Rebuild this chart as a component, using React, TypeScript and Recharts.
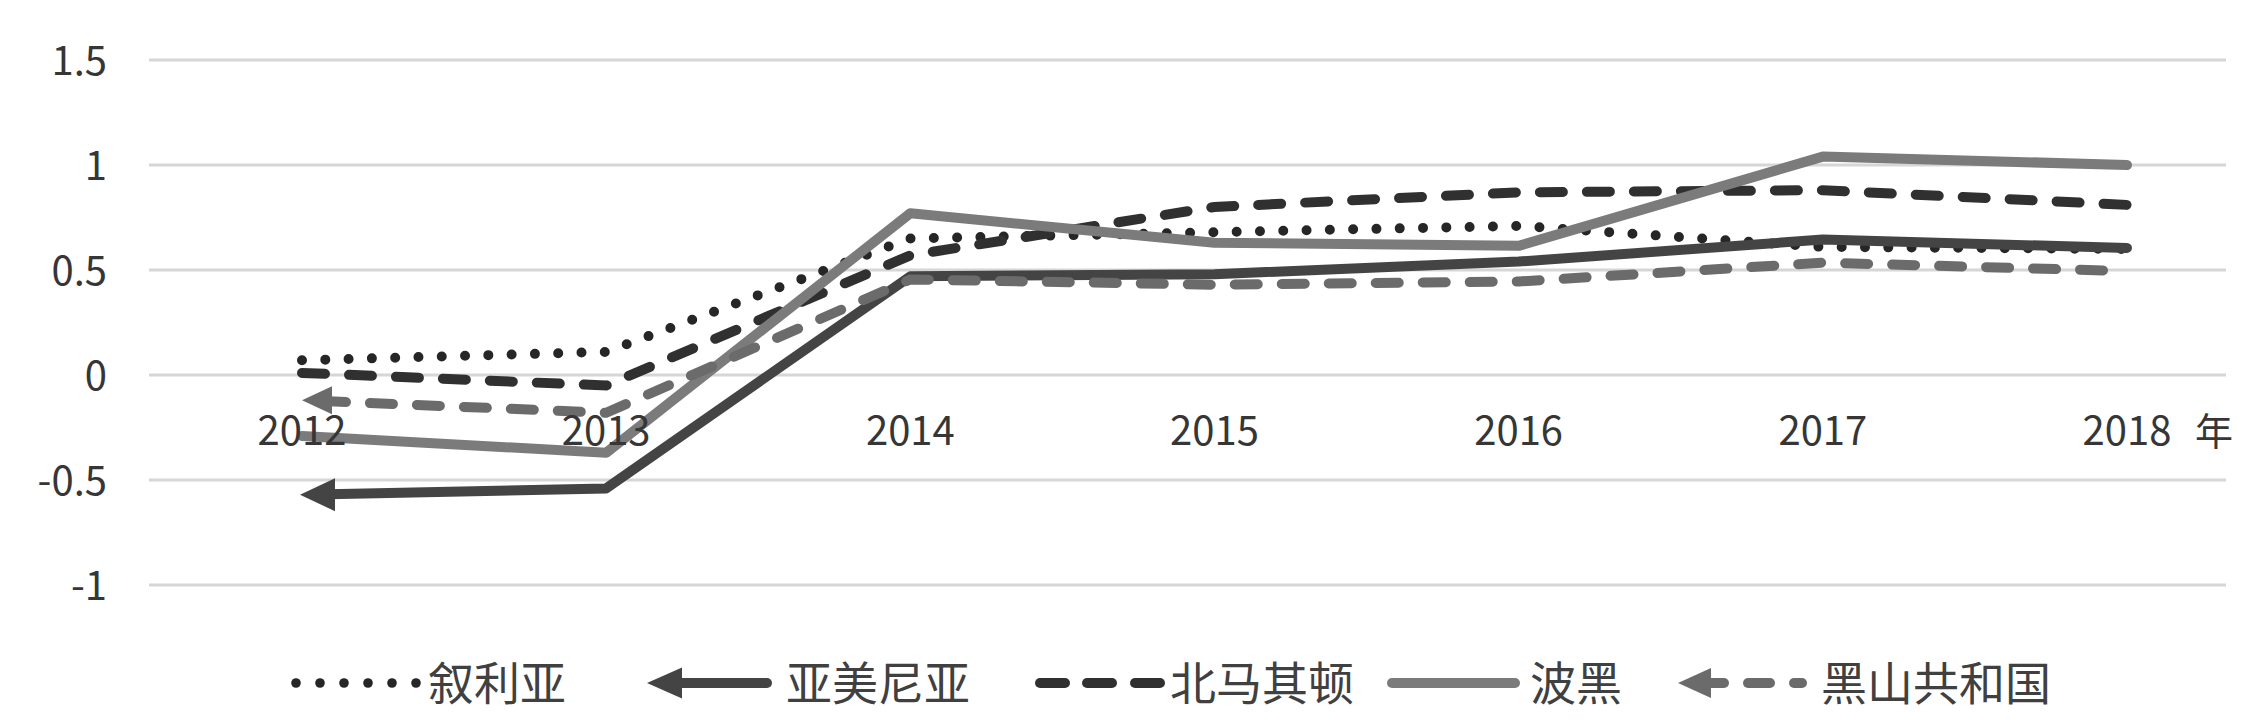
import React from 'react';
import { LineChart, Line, XAxis, YAxis, CartesianGrid, Legend } from 'recharts';

const years = ['2012', '2013', '2014', '2015', '2016', '2017', '2018'];
const syria = [0.07, 0.11, 0.65, 0.68, 0.71, 0.61, 0.6];
const armenia = [-0.57, -0.54, 0.47, 0.48, 0.54, 0.645, 0.605];
const northMacedonia = [0.01, -0.05, 0.57, 0.8, 0.87, 0.88, 0.81];
const bosnia = [-0.29, -0.37, 0.77, 0.63, 0.615, 1.04, 1.0];
const montenegro = [-0.12, -0.18, 0.455, 0.43, 0.445, 0.535, 0.495];
const seriesNames = ['叙利亚', '亚美尼亚', '北马其顿', '波黑', '黑山共和国'];
const yTicks = [-1, -0.5, 0, 0.5, 1, 1.5];
const yearUnit = '年';

const data = years.map((year, i) => ({
  year,
  syria: syria[i],
  armenia: armenia[i],
  northMacedonia: northMacedonia[i],
  bosnia: bosnia[i],
  montenegro: montenegro[i],
}));

const FONT = '"Noto Sans CJK SC", "Noto Sans", sans-serif';
const TEXT = '#363636';
const LEGEND_TEXT = '#404040';
const C_SYRIA = '#262626';
const C_ARMENIA = '#444444';
const C_NM = '#303030';
const C_BOSNIA = '#7b7b7b';
const C_MONT = '#6b6b6b';

const XTick = (props: any) => {
  const { x, y, payload, index } = props;
  return (
    <g transform={`translate(${x},${y - 140})`}>
      <text textAnchor="middle" fontFamily={FONT} fontSize={40} fill={TEXT}>
        {payload.value}
      </text>
      {index === years.length - 1 && (
        <text x={87} textAnchor="middle" fontFamily={FONT} fontSize={38} fill={TEXT}>
          {yearUnit}
        </text>
      )}
    </g>
  );
};

const YTick = (props: any) => {
  const { x, y, payload } = props;
  return (
    <text x={x} y={y + 14.5} textAnchor="end" fontFamily={FONT} fontSize={40} fill={TEXT}>
      {String(payload.value)}
    </text>
  );
};

const arrowDot = (len: number, half: number, color: string, tipOffset: number) => (props: any) => {
  const { cx, cy, index } = props;
  if (index !== 0 || cx == null || cy == null) return <g key={`d${index}`} />;
  const tx = cx - tipOffset;
  return (
    <polygon
      key={`d${index}`}
      points={`${tx},${cy} ${tx + len},${cy - half} ${tx + len},${cy + half}`}
      fill={color}
    />
  );
};

const LegendContent = () => {
  const cy = 43;
  const base = 60;
  const textProps = { fontFamily: FONT, fontSize: 46, fill: LEGEND_TEXT };
  const dots = [0, 1, 2, 3, 4, 5];
  return (
    <svg width={2264} height={80} style={{ display: 'block' }}>
      {dots.map((k) => (
        <circle key={k} cx={296 + 24 * k} cy={cy} r={4.8} fill={C_SYRIA} />
      ))}
      <text x={428} y={base} {...textProps}>{seriesNames[0]}</text>
      <polygon points={`647,${cy} 682,${cy - 15.5} 682,${cy + 15.5}`} fill={C_ARMENIA} />
      <line x1={676} y1={cy} x2={767} y2={cy} stroke={C_ARMENIA} strokeWidth={10} strokeLinecap="round" />
      <text x={786} y={base} {...textProps}>{seriesNames[1]}</text>
      {[1040, 1087, 1135].map((s) => (
        <line key={s} x1={s} y1={cy} x2={s + 25} y2={cy} stroke={C_NM} strokeWidth={10} strokeLinecap="round" />
      ))}
      <text x={1170} y={base} {...textProps}>{seriesNames[2]}</text>
      <line x1={1392} y1={cy} x2={1515} y2={cy} stroke={C_BOSNIA} strokeWidth={10} strokeLinecap="round" />
      <text x={1530} y={base} {...textProps}>{seriesNames[3]}</text>
      <polygon points={`1678,${cy} 1711,${cy - 15} 1711,${cy + 15}`} fill={C_MONT} />
      <line x1={1705} y1={cy} x2={1724} y2={cy} stroke={C_MONT} strokeWidth={10} strokeLinecap="round" />
      <line x1={1748} y1={cy} x2={1770} y2={cy} stroke={C_MONT} strokeWidth={10} strokeLinecap="round" />
      <line x1={1794} y1={cy} x2={1802} y2={cy} stroke={C_MONT} strokeWidth={10} strokeLinecap="round" />
      <text x={1821} y={base} {...textProps}>{seriesNames[4]}</text>
    </svg>
  );
};

export default function App() {
  return (
    <div style={{ position: 'fixed', left: 0, top: 0, width: 2264, height: 723, background: '#ffffff' }}>
      <LineChart
        width={2264}
        height={723}
        data={data}
        margin={{ top: 60, right: 38, bottom: 108, left: 0 }}
      >
        <CartesianGrid vertical={false} stroke="#d6d6d6" strokeWidth={3} />
        <XAxis
          dataKey="year"
          height={30}
          axisLine={false}
          tickLine={false}
          tickSize={0}
          tickMargin={0}
          interval={0}
          padding={{ left: 153, right: 99 }}
          tick={<XTick />}
        />
        <YAxis
          width={149}
          domain={[-1, 1.5]}
          ticks={yTicks}
          interval={0}
          axisLine={false}
          tickLine={false}
          tickSize={0}
          tickMargin={42}
          tick={<YTick />}
        />
        <Legend
          layout="horizontal"
          verticalAlign="middle"
          align="center"
          wrapperStyle={{ position: 'absolute', left: 0, top: 640, width: 2264, height: 80, margin: 0, padding: 0 }}
          content={<LegendContent />}
        />
        <Line
          type="linear"
          dataKey="syria"
          name={seriesNames[0]}
          stroke={C_SYRIA}
          strokeWidth={10}
          strokeDasharray="0 23.3"
          strokeLinecap="round"
          dot={false}
          activeDot={false}
          isAnimationActive={false}
        />
        <Line
          type="linear"
          dataKey="armenia"
          name={seriesNames[1]}
          stroke={C_ARMENIA}
          strokeWidth={10}
          strokeDasharray="99999 14"
          strokeDashoffset={99999}
          strokeLinecap="round"
          strokeLinejoin="round"
          dot={arrowDot(35, 16.5, C_ARMENIA, 2)}
          activeDot={false}
          isAnimationActive={false}
        />
        <Line
          type="linear"
          dataKey="northMacedonia"
          name={seriesNames[2]}
          stroke={C_NM}
          strokeWidth={10}
          strokeDasharray="23 24"
          strokeLinecap="round"
          dot={false}
          activeDot={false}
          isAnimationActive={false}
        />
        <Line
          type="linear"
          dataKey="bosnia"
          name={seriesNames[3]}
          stroke={C_BOSNIA}
          strokeWidth={10}
          strokeLinecap="round"
          strokeLinejoin="round"
          dot={false}
          activeDot={false}
          isAnimationActive={false}
        />
        <Line
          type="linear"
          dataKey="montenegro"
          name={seriesNames[4]}
          stroke={C_MONT}
          strokeWidth={10}
          strokeDasharray="23 24"
          strokeDashoffset={26}
          strokeLinecap="round"
          dot={arrowDot(30, 14, C_MONT, 0)}
          activeDot={false}
          isAnimationActive={false}
        />
      </LineChart>
    </div>
  );
}
